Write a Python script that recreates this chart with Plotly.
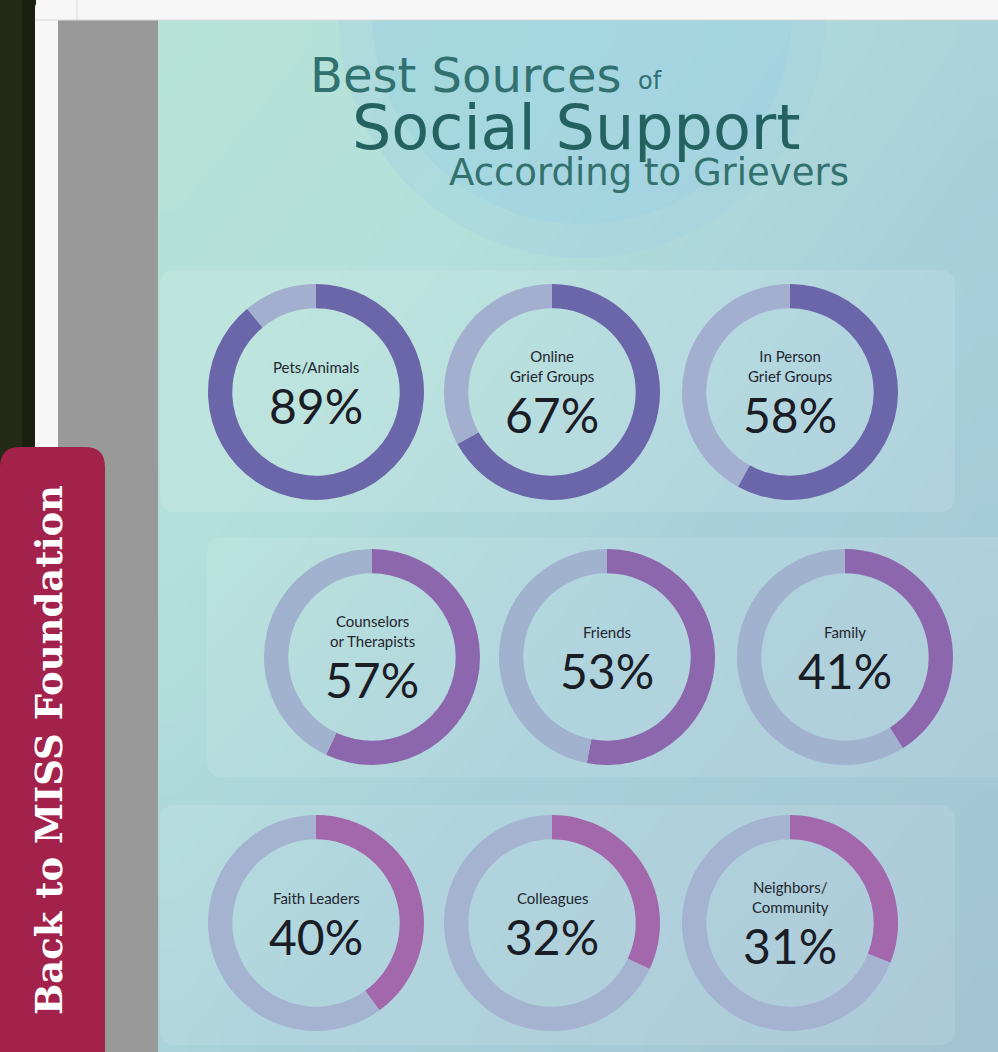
import numpy as np
import plotly.graph_objects as go

W, H = 998, 1052

# ---- data ----
categories = ["Pets/Animals", "Online<br>Grief Groups", "In Person<br>Grief Groups",
              "Counselors<br>or Therapists", "Friends", "Family",
              "Faith Leaders", "Colleagues", "Neighbors/<br>Community"]
values = [89, 67, 58, 57, 53, 41, 40, 32, 31]
row_of = [0, 0, 0, 1, 1, 1, 2, 2, 2]
col_of = [0, 1, 2, 0, 1, 2, 0, 1, 2]

# ---- styling ----
row_fill = ["#6b66a9", "#8d67ad", "#a367ab"]
row_rest = ["#a3afcf", "#a1b2cf", "#a3b3d0"]
row_cx = [[316, 552, 790], [372, 607, 845], [316, 552, 790]]
row_cy = [392, 657, 923]
R = 108

fig = go.Figure()

# background gradient of the infographic (decorative)
n = 24
gx = np.linspace(158, 998, n + 1)
gy = np.linspace(20, 1052, n + 1)
u = (np.arange(n) + 0.5) / n
U, V = np.meshgrid(u, u)
Z = 0.0 * (1 - U) * (1 - V) + 0.55 * U * (1 - V) + 0.55 * (1 - U) * V + 1.0 * U * V
fig.add_trace(go.Heatmap(
    x=gx, y=gy, z=Z, zsmooth="best", showscale=False, hoverinfo="skip",
    colorscale=[[0, "#b7e3d7"], [0.3, "#b3e0da"], [0.6, "#a8d0db"], [1, "#a4c3d3"]],
    zmin=0, zmax=1,
))

def circle_poly(cx, cy, r, n=180):
    t = np.linspace(0, 2 * np.pi, n)
    return cx + r * np.cos(t), cy + r * np.sin(t)

def rrect_poly(x0, y0, x1, y1, r, n=12):
    xs, ys = [], []
    corners = [(x1 - r, y0 + r, -np.pi / 2, 0), (x1 - r, y1 - r, 0, np.pi / 2),
               (x0 + r, y1 - r, np.pi / 2, np.pi), (x0 + r, y0 + r, np.pi, 1.5 * np.pi)]
    for cx, cy, a0, a1 in corners:
        t = np.linspace(a0, a1, n)
        xs += list(cx + r * np.cos(t)); ys += list(cy + r * np.sin(t))
    xs.append(xs[0]); ys.append(ys[0])
    return xs, ys

def deco(xs, ys, color):
    fig.add_trace(go.Scatter(x=xs, y=ys, mode="lines", fill="toself", fillcolor=color,
                             line=dict(width=0), hoverinfo="skip", showlegend=False))

# decorative circles behind the title
deco(*circle_poly(582, 14, 244), "rgba(160,210,230,0.35)")
deco(*circle_poly(582, 14, 210), "rgba(150,205,230,0.30)")
# panels
deco(*rrect_poly(160, 270, 955, 512, 14), "rgba(255,255,255,0.12)")
deco(*rrect_poly(207, 537, 1012, 777, 14), "rgba(255,255,255,0.10)")
deco(*rrect_poly(160, 805, 955, 1045, 14), "rgba(255,255,255,0.10)")

shapes = []
def rrect(x0, y0, x1, y1, r, color, layer="below"):
    p = (f"M{x0+r},{y0} L{x1-r},{y0} Q{x1},{y0} {x1},{y0+r} L{x1},{y1-r} "
         f"Q{x1},{y1} {x1-r},{y1} L{x0+r},{y1} Q{x0},{y1} {x0},{y1-r} "
         f"L{x0},{y0+r} Q{x0},{y0} {x0+r},{y0} Z")
    shapes.append(dict(type="path", path=p, xref="x", yref="y", fillcolor=color,
                       line=dict(width=0), layer=layer))

# page chrome
shapes.append(dict(type="rect", xref="x", yref="y", x0=0, x1=22, y0=0, y1=H,
                   fillcolor="#232a15", line=dict(width=0), layer="below"))
shapes.append(dict(type="rect", xref="x", yref="y", x0=22, x1=36, y0=0, y1=H,
                   fillcolor="#1a200f", line=dict(width=0), layer="below"))
rrect(35, 0, 1040, H + 40, 9, "#f7f7f7", layer="below")
shapes.append(dict(type="rect", xref="x", yref="y", x0=58, x1=158, y0=20, y1=H,
                   fillcolor="#999999", line=dict(width=0), layer="below"))
rrect(0, 447, 105, H + 30, 20, "#a3224b", layer="below")
# top bar drawn above so the decorative circle stays beneath it
shapes.append(dict(type="path", path="M35,20 L35,9 Q35,0 44,0 L998,0 L998,20 Z",
                   xref="x", yref="y", fillcolor="#f7f7f7", line=dict(width=0), layer="above"))
shapes.append(dict(type="line", xref="x", yref="y", x0=35, x1=W, y0=20, y1=20,
                   line=dict(color="#d9d9d9", width=1), layer="above"))
shapes.append(dict(type="line", xref="x", yref="y", x0=77, x1=77, y0=0, y1=20,
                   line=dict(color="#d9d9d9", width=1), layer="above"))

# donuts
annotations = []
for i, (cat, v) in enumerate(zip(categories, values)):
    r, c = row_of[i], col_of[i]
    cx, cy = row_cx[r][c], row_cy[r]
    fig.add_trace(go.Pie(
        values=[v, 100 - v], labels=["yes", "no"],
        marker=dict(colors=[row_fill[r], row_rest[r]], line=dict(width=0)),
        hole=0.775, sort=False, direction="clockwise", rotation=0,
        textinfo="none", hoverinfo="skip", showlegend=False,
        domain=dict(x=[(cx - R) / W, (cx + R) / W], y=[1 - (cy + R) / H, 1 - (cy - R) / H]),
    ))
    two = "<br>" in cat
    ly = cy - (26 if two else 25)
    py = cy + (22 if two else 13)
    annotations.append(dict(x=cx, y=ly, xref="x", yref="y", text=cat, showarrow=False,
                            font=dict(family="Lato", size=15, color="#22262f"),
                            xanchor="center", yanchor="middle"))
    annotations.append(dict(x=cx, y=py, xref="x", yref="y", text=f"{v}%", showarrow=False,
                            font=dict(family="Lato", size=48, color="#1a1c26"),
                            xanchor="center", yanchor="middle"))

# titles
TF = "DejaVu Sans"
annotations += [
    dict(x=308, y=75, xref="x", yref="y", text="Best Sources", showarrow=False,
         xanchor="left", yanchor="middle",
         font=dict(family=TF, size=48, color="#317170")),
    dict(x=636, y=81, xref="x", yref="y", text="of", showarrow=False,
         xanchor="left", yanchor="middle",
         font=dict(family=TF, size=24, color="#317170")),
    dict(x=576, y=127, xref="x", yref="y", text="Social Support", showarrow=False,
         xanchor="center", yanchor="middle",
         font=dict(family=TF, size=62, color="#246262")),
    dict(x=649, y=172, xref="x", yref="y", text="According to Grievers", showarrow=False,
         xanchor="center", yanchor="middle",
         font=dict(family=TF, size=37, color="#33716e")),
    dict(x=49, y=750, xref="x", yref="y", text="<b>Back to MISS Foundation</b>", showarrow=False,
         textangle=-90, xanchor="center", yanchor="middle",
         font=dict(family="DejaVu Serif", size=37, color="#ffffff")),
]

fig.update_layout(
    width=W, height=H, margin=dict(l=0, r=0, t=0, b=0),
    paper_bgcolor="#f7f7f7", plot_bgcolor="#f7f7f7",
    xaxis=dict(range=[0, W], visible=False, fixedrange=True),
    yaxis=dict(range=[H, 0], visible=False, fixedrange=True),
    shapes=shapes, annotations=annotations, showlegend=False,
)

fig.write_html("out.html", config={"displayModeBar": False},
               post_script="document.body.style.margin='0';document.body.style.overflow='hidden';")
